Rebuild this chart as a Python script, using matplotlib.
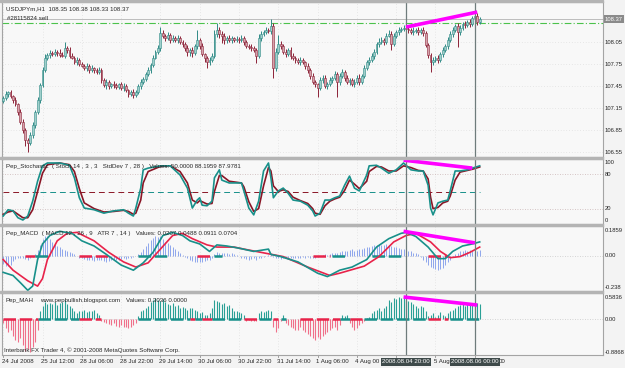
import matplotlib
matplotlib.use("Agg")
import matplotlib.pyplot as plt
import matplotlib.transforms as mtransforms
from matplotlib.patches import Rectangle

plt.rcParams['font.family'] = ['Liberation Sans', 'DejaVu Sans']

W, H = 625, 368
FS = 4.4
FS_R = 4.2

# USDJPYm H1 bars from 24 Jul 2008 20:00, prices in pips (0.01 yen)
first_open = 10725
close_pips = [
    10729, 10735, 10737, 10732, 10727, 10721, 10710, 10697, 10686, 10672,
    10668, 10679, 10692, 10710, 10727, 10747, 10767, 10784, 10788, 10791,
    10789, 10792, 10791, 10788, 10787, 10797, 10795, 10787, 10784, 10778,
    10781, 10776, 10773, 10770, 10773, 10767, 10770, 10767, 10765, 10767,
    10754, 10747, 10751, 10746, 10748, 10747, 10744, 10748, 10743, 10746,
    10740, 10735, 10737, 10733, 10737, 10746, 10751, 10755, 10762, 10767,
    10774, 10784, 10792, 10797, 10818, 10814, 10811, 10815, 10808, 10811,
    10808, 10811, 10806, 10803, 10797, 10792, 10795, 10791, 10800, 10808,
    10800, 10789, 10784, 10778, 10781, 10787, 10817, 10822, 10817, 10814,
    10808, 10811, 10808, 10811, 10808, 10810, 10808, 10811, 10806, 10800,
    10799, 10798, 10795, 10787, 10811, 10817, 10819, 10822, 10821, 10827,
    10770, 10792, 10803, 10800, 10792, 10789, 10795, 10787, 10784, 10781,
    10778, 10781, 10778, 10773, 10767, 10759, 10751, 10748, 10743, 10754,
    10757, 10746, 10748, 10754, 10757, 10762, 10751, 10759, 10765, 10757,
    10751, 10754, 10748, 10751, 10757, 10751, 10759, 10770, 10778, 10781,
    10787, 10792, 10803, 10806, 10808, 10806, 10814, 10817, 10803, 10814,
    10819, 10822, 10823, 10825, 10824, 10822, 10819, 10821, 10822, 10819,
    10822, 10818, 10802, 10788, 10778, 10781, 10784, 10781, 10789, 10795,
    10800, 10808, 10817, 10822, 10827, 10819, 10825, 10830, 10829, 10833,
    10830, 10838, 10841, 10833, 10837]
wick_up = [
    3, 4, 2, 3, 2, 3, 2, 4, 3, 2,
    3, 4, 5, 3, 4, 3, 4, 5, 3, 4,
    3, 4, 3, 5, 4, 9, 3, 4, 3, 2,
    4, 3, 3, 2, 4, 3, 4, 2, 3, 4,
    3, 2, 4, 3, 2, 4, 3, 2, 3, 4,
    3, 2, 3, 4, 3, 2, 4, 3, 3, 4,
    3, 4, 3, 4, 8, 4, 3, 4, 3, 4,
    3, 4, 3, 2, 3, 4, 3, 4, 3, 14,
    3, 4, 2, 3, 4, 3, 5, 10, 4, 3,
    4, 3, 4, 3, 2, 4, 3, 4, 3, 2,
    3, 4, 2, 3, 5, 4, 3, 4, 3, 10,
    4, 6, 12, 4, 3, 4, 3, 4, 3, 2,
    3, 4, 3, 2, 4, 3, 4, 3, 2, 4,
    3, 4, 3, 4, 2, 4, 3, 5, 4, 3,
    4, 3, 2, 4, 3, 5, 3, 4, 3, 4,
    3, 4, 3, 5, 4, 3, 4, 5, 3, 4,
    3, 4, 3, 4, 3, 4, 3, 5, 3, 4,
    3, 4, 3, 2, 3, 4, 3, 4, 3, 4,
    3, 4, 3, 4, 3, 5, 4, 3, 4, 3,
    4, 3, 4, 4, 3]
wick_dn = [
    3, 2, 4, 3, 4, 3, 4, 3, 4, 8,
    12, 3, 4, 3, 2, 4, 3, 2, 3, 4,
    3, 2, 4, 3, 2, 3, 4, 3, 2, 3,
    4, 3, 2, 3, 4, 3, 2, 4, 3, 3,
    4, 3, 5, 4, 3, 4, 3, 2, 3, 4,
    3, 4, 3, 4, 3, 2, 4, 3, 2, 3,
    4, 3, 2, 3, 4, 3, 4, 3, 4, 3,
    3, 4, 3, 4, 3, 6, 5, 6, 3, 4,
    4, 3, 6, 8, 4, 3, 3, 4, 6, 10,
    5, 4, 3, 4, 3, 2, 4, 3, 4, 3,
    3, 4, 3, 10, 3, 4, 3, 2, 3, 4,
    13, 4, 3, 4, 3, 4, 3, 4, 3, 4,
    3, 4, 3, 4, 3, 4, 3, 4, 12, 3,
    4, 3, 4, 3, 4, 3, 20, 4, 3, 4,
    3, 4, 3, 4, 3, 4, 3, 2, 3, 4,
    3, 4, 3, 4, 3, 4, 3, 2, 8, 3,
    3, 4, 3, 2, 3, 4, 3, 4, 3, 4,
    3, 4, 3, 4, 13, 4, 3, 4, 3, 4,
    3, 4, 3, 4, 3, 20, 4, 3, 4, 3,
    4, 3, 4, 4, 3]

# Pep_Stochastic (main / signal), sampled at bar indices
stoch_idx = [0, 2, 4, 6, 8, 10, 12, 14, 16, 18, 23, 27, 29, 31, 33, 37, 41, 45, 49, 51,
             53, 54, 56, 57, 59, 64, 68, 72, 75, 77, 79, 80, 81, 83, 85, 86, 88, 89, 92, 97,
             98, 100, 102, 104, 106, 108, 109, 110, 112, 114, 116, 118, 121, 124, 126, 127,
             129, 131, 133, 135, 137, 139, 141, 143, 145, 148, 149, 152, 154, 157, 160, 163,
             166, 169, 171, 173, 174, 175, 177, 179, 181, 182, 184, 186, 189, 191, 194]
stoch_k = [7, 18, 16, 4, 0, 7, 33, 68, 95, 100, 100, 96, 74, 39, 21, 18, 12, 16, 18, 12,
           7, 21, 56, 88, 91, 95, 95, 79, 56, 21, 35, 39, 26, 25, 33, 74, 88, 70, 65, 65,
           51, 21, 9, 33, 86, 100, 74, 39, 51, 56, 47, 35, 33, 26, 16, 7,
           12, 35, 35, 39, 42, 61, 77, 56, 51, 79, 95, 96, 91, 82, 88, 100,
           88, 86, 86, 61, 21, 9, 30, 33, 35, 51, 86, 86, 88, 91, 95]
stoch_d = [10, 14, 16, 10, 4, 4, 18, 50, 82, 97, 100, 97, 85, 55, 30, 20, 14, 15, 17, 15,
           10, 12, 35, 65, 85, 94, 95, 85, 65, 35, 30, 34, 32, 28, 29, 50, 78, 78, 68, 65,
           58, 32, 15, 20, 60, 92, 86, 60, 50, 53, 50, 40, 34, 29, 20, 12,
           10, 25, 33, 37, 40, 52, 70, 63, 55, 68, 85, 94, 93, 86, 86, 95,
           92, 87, 86, 72, 40, 20, 22, 30, 33, 42, 70, 84, 87, 89, 93]

# Pep_MACD
macd_idx = [0, 4, 7, 10, 12, 14, 16, 19, 23, 28, 32, 37, 42, 48, 53, 57, 61, 65, 69, 73,
            76, 80, 84, 87, 91, 96, 102, 108, 109, 113, 120, 128, 132, 137, 142, 148, 152, 157,
            162, 164, 168, 173, 177, 180, 183, 187, 191, 194]
macd_main = [-0.124, -0.147, -0.20, -0.256, -0.225, -0.03, 0.085, 0.147, 0.178, 0.163,
             0.108, 0.07, 0.008, -0.07, -0.108, -0.054, 0.023, 0.147, 0.17, 0.147,
             0.108, 0.085, 0.03, 0.078, 0.07, 0.054, 0.03, 0.047, 0.008, -0.008,
             -0.047, -0.13, -0.155, -0.108, -0.085, -0.03, 0.062, 0.124, 0.163, 0.17,
             0.14, 0.062, -0.023, -0.023, 0.03, 0.07, 0.085, 0.1]
sig_idx = [0, 4, 10, 14, 16, 18, 22, 26, 30, 37, 43, 49, 54, 59, 64, 69, 73, 77, 83, 87,
           94, 98, 105, 114, 124, 133, 137, 147, 153, 159, 164, 168, 174, 178, 182, 186, 190, 194]
macd_sig = [-0.03, -0.108, -0.186, -0.225, -0.17, -0.03, 0.108, 0.163, 0.17, 0.108,
            0.023, -0.047, -0.085, -0.054, 0.047, 0.147, 0.163, 0.124, 0.078, 0.062,
            0.062, 0.047, 0.023, -0.008, -0.085, -0.147, -0.13, -0.078, -0.008, 0.1,
            0.147, 0.163, 0.1, 0.03, -0.016, -0.008, 0.023, 0.062]
macd_hist_k = [
    -60, -75, -80, -70, -40, -25, -20, -15, -20, -25,
    -30, -20, -10, 10, 40, 80, 120, 145, 140, 120,
    100, 85, 70, 60, 50, 40, 30, 25, 20, 10,
    -5, -15, -20, -25, -30, -35, -30, -40, -35, -30,
    -35, -40, -45, -40, -35, -30, -35, -30, -25, -20,
    -25, -20, -15, -10, -5, 10, 25, 45, 70, 95,
    115, 130, 140, 135, 140, 120, 100, 90, 75, 60,
    45, 30, 20, 5, -10, -20, -30, -40, -50, -45,
    -50, -45, -40, -35, -30, -20, 10, 25, 20, 15,
    20, 15, 10, 15, 10, 5, -5, -15, -20, -25,
    -30, -25, -20, -30, -20, -15, -10, -5, 5, 10,
    -10, -15, -20, -25, -20, -15, -20, -15, -20, -15,
    -20, -15, -10, -15, -10, -15, -20, -15, -10, -5,
    5, 10, 5, 10, 15, 20, 15, 25, 30, 35,
    30, 40, 45, 35, 40, 45, 50, 55, 60, 65,
    70, 75, 80, 85, 80, 75, 85, 80, 70, 65,
    60, 55, 50, 45, 40, 35, 30, 20, 15, 10,
    -10, -30, -50, -70, -85, -95, -100, -110, -100, -90,
    -70, -50, -30, -10, 10, 20, 30, 35, 40, 35,
    40, 35, 30, 35, 40]
macd_seg_start = [9, 13, 31, 55, 79, 86, 126, 134, 150, 173]
macd_seg_end = [13, 19, 44, 67, 85, 89, 133, 140, 162, 181]
macd_seg_bull = [0, 1, 0, 1, 0, 1, 0, 1, 1, 0]

# Pep_MAH histogram (x100)
mah_hist_c = [
    -10, -25, -35, -30, -45, -55, -60, -50, -70, -85,
    -80, -88, -75, -60, -30, 20, 35, 45, 40, 42,
    40, 44, 38, 42, 45, 50, 40, 35, 30, 20,
    15, 20, 22, 25, 18, 22, 20, 25, 15, 10,
    -5, -8, -10, -12, -15, -10, -18, -20, -15, -20,
    -22, -25, -20, -15, -10, 8, 20, 25, 30, 35,
    45, 50, 55, 50, 48, 52, 45, 40, 38, 42,
    35, 38, 30, 32, 28, 25, 30, 28, 25, 20,
    15, 18, 12, 10, 15, 30, 50, 48, 45, 40,
    42, 35, 38, 30, 22, 20, 18, 15, 12, -5,
    -3, -5, -4, -6, 15, 20, 18, 22, 25, 20,
    -20, -35, -25, -5, 10, -10, -15, -20, -25, -30,
    -28, -22, -30, -35, -40, -45, -50, -55, -48, -52,
    -45, -40, -35, -30, -25, -20, -30, -15, 10, 8,
    12, -10, -20, -30, -25, -15, -10, -5, 3, 5,
    15, 20, 25, 30, 22, 28, 35, 50, 45, 55,
    52, 58, 55, 60, 50, 48, 45, 40, 35, 30,
    35, 32, 20, 8, 10, 15, 5, 12, 18, 10,
    8, 15, 20, 25, 30, 35, 38, 40, 35, 42,
    38, 40, 36, 42, 40]
mah_seg_start = [0, 14, 31, 55, 76, 78, 81, 85, 98, 104, 110, 113, 121, 137, 141, 147, 173, 182]
mah_seg_end = [14, 31, 40, 76, 78, 81, 85, 98, 104, 109, 112, 115, 137, 141, 146, 172, 181, 194]
mah_seg_bull = [0, 1, 0, 1, 0, 1, 0, 1, 0, 1, 0, 1, 0, 1, 0, 1, 0, 1]

stoch_mid_start = [0, 15, 31, 55, 77, 86, 98, 104, 110, 137, 172, 182]
stoch_mid_end = [15, 31, 55, 77, 86, 98, 104, 110, 137, 172, 182, 194]
stoch_mid_bull = [0, 1, 0, 1, 0, 1, 0, 1, 0, 1, 0, 1]

# drawn trend lines (bar index, value)
div_price = ([164, 193], [108.26, 108.465])
div_stoch = ([163, 191], [105, 91])
div_macd = ([163, 192], [0.178, 0.093])
div_mah = ([163, 193], [0.584, 0.371])
vlines_idx = [164, 192]

# time scale: labels as visible (the two cursor boxes hide parts of them)
time_idx = [0, 16, 32, 48, 64, 80, 96, 112, 128, 144, 176]
time_labels = ['24 Jul 2008', '25 Jul 12:00', '28 Jul 06:00', '28 Jul 22:00', '29 Jul 14:00',
               '30 Jul 06:00', '30 Jul 22:00', '31 Jul 14:00', '1 Aug 06:00', '4 Aug 00',
               '5 Aug']
grid_idx = [0, 16, 32, 48, 64, 80, 96, 112, 128, 144, 160, 176, 192]
box_labels = ['2008.08.04 20:00', '2008.08.06 00:00']
tail_idx, tail_label = 201.6, '00'
price_ticks = [108.05, 107.75, 107.45, 107.15, 106.85, 106.55]
bid = 108.37
order_price = 108.315

TEAL = '#18908a'
DRED = '#8a1626'
RED = '#e8234a'
BG = '#f8f8f8'
TXT = '#262626'
XMIN, XMAX = -0.49, 244.2


def panel(fig, top, bottom):
    ax = fig.add_axes([2 / W, 1 - bottom / H, 601 / W, (bottom - top) / H])
    ax.set_facecolor(BG)
    ax.set_xlim(XMIN, XMAX)
    ax.set_xticks([])
    ax.set_yticks([])
    for s in ax.spines.values():
        s.set_color('#a4a4a4')
        s.set_linewidth(0.8)
    for t in grid_idx:
        ax.axvline(t, color='#d6d6d6', lw=0.5, ls=(0, (1, 3)), zorder=0)
    for v in vlines_idx:
        ax.axvline(v, color='#6f7c7c', lw=0.9, zorder=5)
    return ax


def right_label(ax, value, text):
    tr = mtransforms.blended_transform_factory(ax.transAxes, ax.transData)
    ax.text(1 + 2 / 601, value, text, transform=tr, fontsize=FS_R, color=TXT,
            va='center', ha='left', clip_on=False)


def seg_lines(ax, starts, ends, bulls, y, lw, dashes):
    for s, e, b in zip(starts, ends, bulls):
        ax.plot([s, e], [y, y], color=TEAL if b else RED, lw=lw,
                dashes=dashes, solid_capstyle='butt', zorder=3)


fig = plt.figure(figsize=(W / 100, H / 100), dpi=100)
fig.patch.set_facecolor('#f3f3f3')

# separators between sub-windows
for y0, y1 in [(0, 2), (157, 159), (224, 226), (291, 293)]:
    fig.patches.append(Rectangle((0, 1 - y1 / H), 603 / W, (y1 - y0) / H,
                                 transform=fig.transFigure, color='#b4b4b4', zorder=0))

# ---------------- price window ----------------
ax = panel(fig, 2, 157)
ax.set_ylim(106.488, 108.602)
for p in price_ticks:
    ax.axhline(p, color='#d6d6d6', lw=0.5, ls=(0, (1, 3)), zorder=0)
    right_label(ax, p, f'{p:.2f}')

opens = [first_open] + close_pips[:-1]
idx = list(range(len(close_pips)))
lows, highs, bottoms, heights, wcol, bcol = [], [], [], [], [], []
for o, c, u, d in zip(opens, close_pips, wick_up, wick_dn):
    hi, lo = max(o, c), min(o, c)
    highs.append((hi + u) / 100)
    lows.append((lo - d) / 100)
    bottoms.append(lo / 100)
    heights.append(max(hi - lo, 0.4) / 100)
    bull = c >= o
    wcol.append('#2f8a86' if bull else '#8c2238')
    bcol.append('#9fcfcb' if bull else '#d6a2aa')
ax.vlines(idx, lows, highs, colors=wcol, lw=0.7, zorder=2)
ax.bar(idx, heights, bottom=bottoms, width=0.75, color=bcol, edgecolor=wcol,
       linewidth=0.4, zorder=3)

ax.axhline(bid, color='#bdbdbd', lw=0.7, zorder=1)
ax.axhline(order_price, color='#4cc24c', lw=0.8, ls='-.', dashes=(6, 2, 1, 2), zorder=1)
ax.text(1.5, order_price + 0.03, '#28115824 sell', fontsize=FS, color=TXT, va='bottom')
ax.plot(div_price[0], div_price[1], color='#ff00ff', lw=2.6, solid_capstyle='butt', zorder=6)
ax.text(0.006, 0.97, 'USDJPYm,H1  108.35 108.38 108.33 108.37', transform=ax.transAxes,
        fontsize=FS, color=TXT, va='top', ha='left')
tr = mtransforms.blended_transform_factory(ax.transAxes, ax.transData)
ax.text(1 + 2 / 601, bid, f'{bid:.2f}', transform=tr, fontsize=FS_R, color='white',
        va='center', ha='left', clip_on=False,
        bbox=dict(boxstyle='square,pad=0.25', fc='#8a8a8a', ec='none'))

# ---------------- stochastic ----------------
ax = panel(fig, 159, 224)
ax.set_ylim(-7, 107)
for lv in (80, 20):
    ax.axhline(lv, color='#c9b4b4', lw=0.6, ls=(0, (1, 2)), zorder=1)
for s, e, b in zip(stoch_mid_start, stoch_mid_end, stoch_mid_bull):
    ax.plot([s, e], [50, 50], color=TEAL if b else DRED, lw=0.7, dashes=(6, 4), zorder=1)
ax.plot(stoch_idx, stoch_d, color=DRED, lw=1.2, zorder=3)
ax.plot(stoch_idx, stoch_k, color=TEAL, lw=1.2, zorder=4)
ax.plot(div_stoch[0], div_stoch[1], color='#ff00ff', lw=2.6, solid_capstyle='butt', zorder=6)
ax.text(0.006, 0.93, 'Pep_Stochastic  ( Stoch 14 , 3 , 3   StdDev 7 , 28 )   '
        'Values: 50.0000 88.1959 87.9781', transform=ax.transAxes, fontsize=FS,
        color=TXT, va='top', zorder=5)
for v in (100, 80, 20, 0):
    right_label(ax, v, str(v))

# ---------------- MACD ----------------
ax = panel(fig, 226, 291)
ax.set_ylim(-0.261, 0.217)
ax.axhline(0, color='#c8c8c8', lw=0.6, ls=(0, (1, 2)), zorder=1)
ax.vlines(idx, 0, [v / 1000 for v in macd_hist_k], colors='#8ea6ec', lw=0.7, zorder=2)
seg_lines(ax, macd_seg_start, macd_seg_end, macd_seg_bull, 0, 1.8, (5, 1.5))
ax.plot(sig_idx, macd_sig, color=RED, lw=1.2, zorder=4)
ax.plot(macd_idx, macd_main, color=TEAL, lw=1.2, zorder=4)
ax.plot(div_macd[0], div_macd[1], color='#ff00ff', lw=2.6, solid_capstyle='butt', zorder=6)
ax.text(0.006, 0.93, 'Pep_MACD  ( MACD 12 , 26 , 9   ATR 7 , 14 )   '
        'Values: 0.0207 0.0488 0.0911 0.0704', transform=ax.transAxes, fontsize=FS,
        color=TXT, va='top', zorder=5)
for v, t in [(0.1859, '0.1859'), (0.0, '0.00'), (-0.238, '-0.238')]:
    right_label(ax, v, t)

# ---------------- MAH ----------------
ax = panel(fig, 293, 355)
ax.set_ylim(-0.953, 0.69)
mah_vals = [v / 100 for v in mah_hist_c]
ax.vlines(idx, 0, mah_vals, colors=['#2aa096' if v >= 0 else '#f0708a' for v in mah_vals],
          lw=0.8, zorder=2)
ax.axhline(0, color='#c8c8c8', lw=0.6, ls=(0, (1, 2)), zorder=1)
seg_lines(ax, mah_seg_start, mah_seg_end, mah_seg_bull, 0, 1.8, (5, 1.5))
ax.plot(div_mah[0], div_mah[1], color='#ff00ff', lw=2.6, solid_capstyle='butt', zorder=6)
ax.text(0.006, 0.92, 'Pep_MAH', transform=ax.transAxes, fontsize=FS, color=TXT, va='top')
ax.text(0.064, 0.92, 'www.pepbullish.blogspot.com', transform=ax.transAxes, fontsize=FS,
        color=TXT, va='top')
ax.text(0.206, 0.92, 'Values: 0.3036 0.0000', transform=ax.transAxes, fontsize=FS,
        color=TXT, va='top', zorder=5)
ax.text(0.004, 0.04, 'Interbank FX Trader 4, \u00a9 2001-2008 MetaQuotes Software Corp.',
        transform=ax.transAxes, fontsize=FS, color=TXT, va='bottom', zorder=5)
for v, t in [(0.5836, '0.5836'), (0.0, '0.00'), (-0.8868, '-0.8868')]:
    right_label(ax, v, t)

# time axis
trx = mtransforms.blended_transform_factory(ax.transData, ax.transAxes)
for t in grid_idx:
    ax.plot([t, t], [0, -0.04], transform=trx, color='#909090', lw=0.6, clip_on=False)
for t, lab in zip(time_idx, time_labels):
    ax.text(t - 0.6, -0.07, lab, transform=trx, fontsize=FS, color=TXT,
            va='top', ha='left', clip_on=False)
for v, lab in zip(vlines_idx, box_labels):
    ax.text(v, -0.07, lab, transform=trx, fontsize=FS, color='white', va='top',
            ha='center', clip_on=False, zorder=8,
            bbox=dict(boxstyle='square,pad=0.2', fc='#3e4a4a', ec='none'))
ax.text(tail_idx, -0.07, tail_label, transform=trx, fontsize=FS, color=TXT,
        va='top', ha='left', clip_on=False)

fig.savefig('out.png', dpi=100, facecolor=fig.get_facecolor())
